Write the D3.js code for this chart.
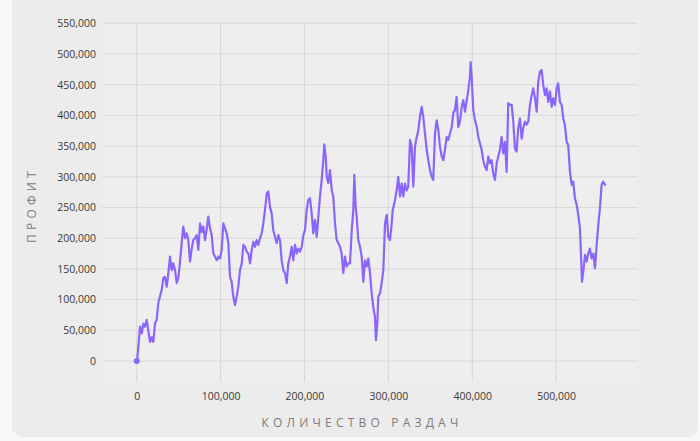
<!DOCTYPE html>
<html><head><meta charset="utf-8">
<script src="https://cdn.jsdelivr.net/npm/d3@7"></script>
<style>
html,body{margin:0;padding:0;background:#f8f8f8;}
svg{display:block;}
text{font-family:"Open Sans","Noto Sans",sans-serif;}
</style></head>
<body><svg id="c" width="700" height="441"></svg>
<script>
// Hands played (x) and cumulative profit (y)
const hands = [0,700,1900,3900,6000,7900,9900,11900,13800,15900,17900,19800,21800,23800,25700,27700,29800,31700,33700,35800,37700,39700,41700,43600,45700,47700,49600,51600,53600,55500,57600,59600,61500,63500,65600,67500,69500,71500,73400,75500,77500,79400,81400,83400,85300,87400,89400,91300,93300,95400,97300,99300,101300,103200,105300,107300,109200,111200,113200,115100,117200,119200,121100,123100,125200,127100,129100,131100,133000,135100,137100,139000,141000,143000,144900,147000,149000,150900,152900,155000,156900,158900,160900,162800,164900,166900,168800,170800,172800,174700,176800,178800,180700,182700,184800,186700,188700,190700,192600,194600,196700,198600,200600,202600,204500,206600,208600,210500,212500,214600,216500,218500,220500,222400,223600,225300,226500,228400,230400,232500,234300,236400,238400,240300,242300,244300,246300,248300,250300,252200,254300,256300,258200,259400,261000,262200,264100,266200,268200,270100,272100,274100,276100,278100,280100,282000,284000,285200,286800,288000,290000,292000,294000,296000,298000,299900,301900,303700,305200,307900,309900,311800,313900,315900,317800,319800,321800,323700,325800,327800,329700,331700,333800,335700,337700,339700,341600,343600,345700,347600,349600,351600,353500,355600,357600,359500,361500,363600,365500,367500,369500,371400,373500,375500,377400,379400,381400,383300,385400,387400,389300,391300,393400,395300,397300,398100,399300,401200,403300,405300,407200,409200,411200,413100,415200,417200,419100,421100,423100,425000,427100,429100,431000,433000,435000,437000,439000,441000,442900,445000,447000,448900,450900,452900,454800,456900,458900,460800,462800,464900,466800,468800,470800,472700,474800,476800,478700,480700,482700,484600,486700,488700,490600,492600,494700,496600,498600,500600,502500,504500,506600,508500,510500,512500,514400,516500,518500,520400,522400,524500,526400,528400,529600,530800,532300,534400,536400,538300,540300,542300,544300,546300,548300,550200,552200,554200,556200,558200];
const profitK = [0,5,23,56,45,61,56,67,50,31,39,31,61,67,94,105,116,135,137,121,143,170,148,159,148,127,135,162,192,219,200,208,197,162,183,197,200,205,181,224,210,219,197,215,235,216,205,175,170,164,170,167,181,224,216,208,192,137,129,105,91,105,121,148,159,189,186,178,175,159,181,194,186,197,189,200,208,224,246,273,276,251,240,213,202,192,205,197,164,148,143,127,159,170,186,164,189,175,183,178,186,205,213,246,262,265,240,208,230,202,235,268,295,327,353,333,300,290,311,278,268,224,197,192,186,175,143,170,154,159,159,213,246,303,251,235,197,186,170,129,164,154,167,143,110,88,72,34,61,105,110,127,148,224,238,202,197,220,246,262,278,300,268,289,268,289,278,284,360,349,284,349,365,376,398,414,398,371,344,327,311,300,295,371,392,376,349,333,327,344,365,360,371,380,404,409,430,381,390,414,425,406,425,441,463,487,463,409,392,381,365,354,344,327,316,311,333,322,327,305,295,322,333,344,365,338,357,308,420,417,417,390,346,341,379,395,362,380,390,385,390,417,433,444,428,406,455,471,474,450,433,444,422,439,414,428,417,444,452,422,417,395,384,357,352,308,287,292,265,254,238,216,173,129,145,173,162,175,183,167,175,151,189,221,249,287,292,287];
const yTicks = [0,50000,100000,150000,200000,250000,300000,350000,400000,450000,500000,550000];
const xTicks = [0,100000,200000,300000,400000,500000];
const xTitle = "КОЛИЧЕСТВО РАЗДАЧ";
const yTitle = "ПРОФИТ";

const data = hands.map((h,i)=>({x:h, y:profitK[i]*1000}));
const svg = d3.select("#c");
const fmt = d3.format(",");

// card
svg.append("rect").attr("x",12).attr("y",-20).attr("width",686).attr("height",457)
  .attr("rx",11).attr("fill","#ececec");

const L=102,R=637,T=23.3,B=382;
svg.append("rect").attr("x",L).attr("y",T).attr("width",R-L).attr("height",B-T).attr("fill","#eeeeee");

const x = d3.scaleLinear().domain([-41400,596400]).range([L,R]);
const y = d3.scaleLinear().domain([-34200,550000]).range([B,T]);

// grid
svg.append("g").selectAll("line").data(yTicks).join("line")
  .attr("x1",L).attr("x2",R).attr("y1",d=>y(d)).attr("y2",d=>y(d))
  .attr("stroke","#dadada").attr("stroke-width",1);
svg.append("g").selectAll("line").data(xTicks).join("line")
  .attr("x1",d=>x(d)).attr("x2",d=>x(d)).attr("y1",T).attr("y2",B)
  .attr("stroke","#d6d6d6").attr("stroke-width",1);

// axes labels via d3 axes
const yAxis = svg.append("g").attr("transform",`translate(${L-6},0)`)
  .call(d3.axisLeft(y).tickValues(yTicks).tickFormat(fmt).tickSize(0).tickPadding(0));
const xAxis = svg.append("g").attr("transform",`translate(0,${B+11})`)
  .call(d3.axisBottom(x).tickValues(xTicks).tickFormat(fmt).tickSize(0).tickPadding(0));
[yAxis,xAxis].forEach(g=>{
  g.select(".domain").remove();
  g.selectAll("text").attr("fill","#3a3a3a").attr("font-size","10.5px")
   .style("font-family",'"Open Sans","Noto Sans",sans-serif');
});

// titles
svg.append("text").attr("x",362).attr("y",427).attr("text-anchor","middle")
  .attr("font-size","12px").attr("letter-spacing","4.2px").attr("fill","#7d7d7d").text(xTitle);
svg.append("text").attr("transform","translate(36,205) rotate(-90)").attr("text-anchor","middle")
  .attr("font-size","12px").attr("letter-spacing","4.2px").attr("fill","#7d7d7d").text(yTitle);

// line
const line = d3.line().x(d=>x(d.x)).y(d=>y(d.y));
svg.append("path").datum(data).attr("d",line).attr("fill","none")
  .attr("stroke","#8b66fb").attr("stroke-width",2.2).attr("stroke-linejoin","round").attr("stroke-linecap","round");
svg.append("circle").attr("cx",x(data[0].x)).attr("cy",y(data[0].y)).attr("r",3).attr("fill","#8b66fb");
</script></body></html>
